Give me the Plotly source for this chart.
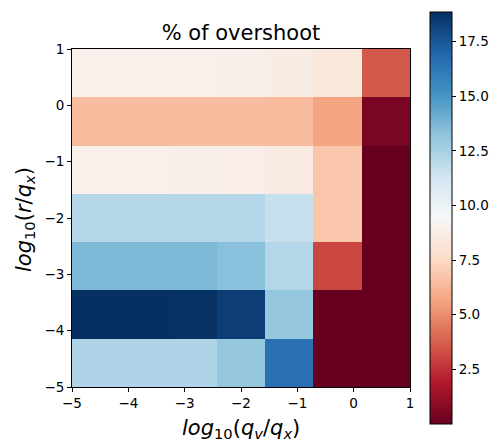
import numpy as np
import plotly.graph_objects as go

# Grid edges in log10 space
log_qv_edges = np.linspace(-5, 1, 8)   # log10(qv/qx)
log_r_edges = np.linspace(-5, 1, 8)    # log10(r/qx)

# Overshoot (%) per cell, rows listed from bottom (r small) to top (r large)
overshoot_row0 = [12.3, 12.3, 12.3, 13.1, 16.5, 0.0, 0.0]
overshoot_row1 = [18.85, 18.85, 18.8, 18.35, 13.1, 0.0, 0.0]
overshoot_row2 = [13.7, 13.7, 13.7, 13.4, 12.2, 3.1, 0.0]
overshoot_row3 = [12.2, 12.2, 12.2, 12.2, 11.6, 6.8, 0.0]
overshoot_row4 = [8.95, 8.95, 8.9, 8.85, 8.65, 6.8, 0.0]
overshoot_row5 = [6.45, 6.45, 6.45, 6.45, 6.4, 5.65, 0.45]
overshoot_row6 = [8.95, 8.95, 8.95, 8.9, 8.7, 8.4, 3.6]

z = [overshoot_row0, overshoot_row1, overshoot_row2, overshoot_row3,
     overshoot_row4, overshoot_row5, overshoot_row6]

cbar_ticks = [2.5, 5.0, 7.5, 10.0, 12.5, 15.0, 17.5]
axis_ticks = [-5, -4, -3, -2, -1, 0, 1]

# matplotlib-style RdBu
rdbu = [
    [0.0, "#67001f"], [0.1, "#b2182b"], [0.2, "#d6604d"], [0.3, "#f4a582"],
    [0.4, "#fddbc7"], [0.5, "#f7f7f7"], [0.6, "#d1e5f0"], [0.7, "#92c5de"],
    [0.8, "#4393c3"], [0.9, "#2166ac"], [1.0, "#053061"],
]

W, H = 498, 442
L, R, T, B = 72, 88, 49, 55
plot_h = H - T - B
plot_w = W - L - R

FONT = "DejaVu Sans"
TICK_SIZE = 13.5
LABEL_SIZE = 21

fig = go.Figure(go.Heatmap(
    x=log_qv_edges, y=log_r_edges, z=z,
    colorscale=rdbu,
    colorbar=dict(
        x=(430 - L) / plot_w, xanchor="left", xpad=0, ypad=0,
        y=(H - B - 218) / plot_h, yanchor="middle",
        thickness=22, thicknessmode="pixels",
        len=412, lenmode="pixels",
        outlinecolor="black", outlinewidth=1,
        tickvals=cbar_ticks, tickformat=".1f",
        ticks="outside", ticklen=4, tickcolor="black",
        tickfont=dict(family=FONT, size=TICK_SIZE, color="black"),
    ),
))

axis_common = dict(
    tickvals=axis_ticks, ticks="outside", ticklen=4, tickcolor="black",
    showline=True, linecolor="black", linewidth=1, mirror=True,
    showgrid=False, zeroline=False,
    tickfont=dict(family=FONT, size=TICK_SIZE, color="black"),
    range=[-5, 1],
)

fig.update_layout(
    width=W, height=H,
    margin=dict(l=L, r=R, t=T, b=B, autoexpand=False),
    paper_bgcolor="white", plot_bgcolor="white",
    title=dict(text="% of overshoot", x=(L + plot_w / 2) / W, xanchor="center",
               y=1 - 33 / H, yanchor="middle",
               font=dict(family=FONT, size=21, color="black")),
    xaxis=dict(**axis_common),
    yaxis=dict(**axis_common),
    annotations=[
        dict(text="<i>log</i><sub>10</sub>(<i>q</i><sub><i>v</i></sub>/<i>q</i><sub><i>x</i></sub>)",
             xref="paper", yref="paper", x=0.5, y=-(429 - (H - B)) / plot_h,
             xanchor="center", yanchor="middle", showarrow=False,
             font=dict(family=FONT, size=LABEL_SIZE, color="black")),
        dict(text="<i>log</i><sub>10</sub>(<i>r</i>/<i>q</i><sub><i>x</i></sub>)",
             xref="paper", yref="paper", x=(25 - L) / plot_w, y=(H - B - 220) / plot_h,
             xanchor="center", yanchor="middle", textangle=-90, showarrow=False,
             font=dict(family=FONT, size=LABEL_SIZE, color="black")),
    ],
)

fig.write_html("out.html")
